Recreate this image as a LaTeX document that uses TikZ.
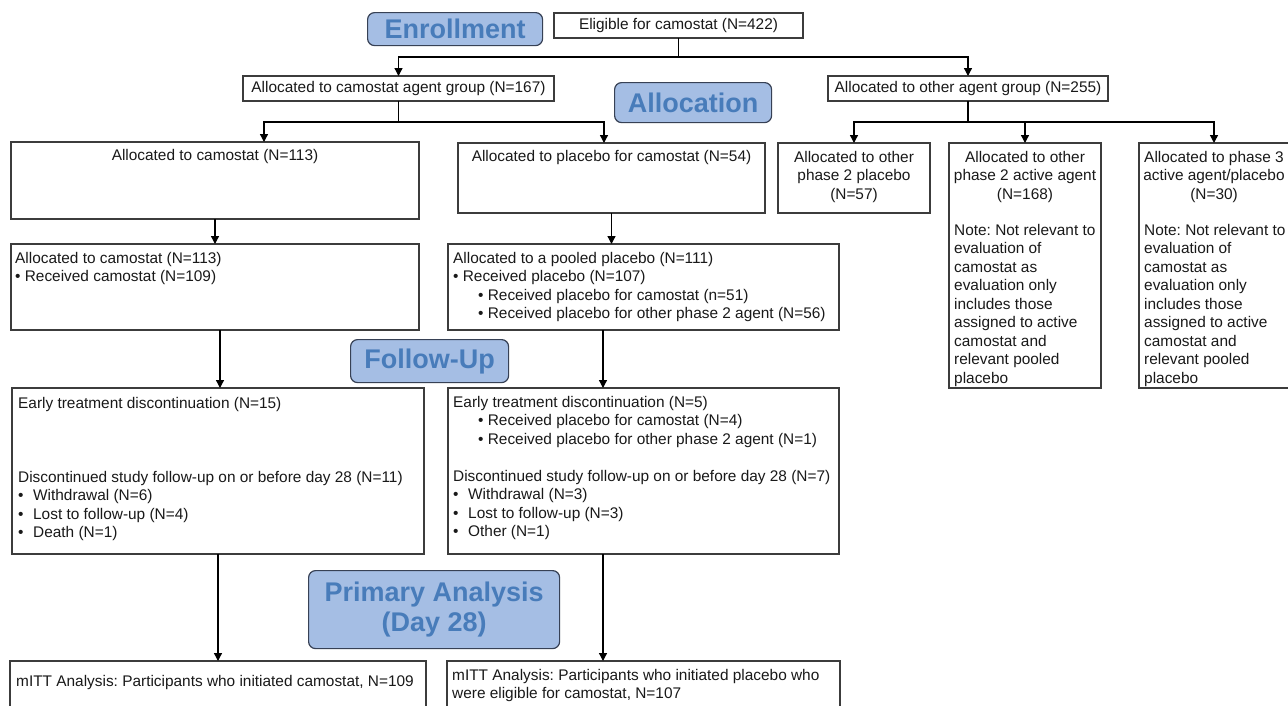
\documentclass[tikz,border=0pt]{standalone}
\usepackage{fontspec}
\setmainfont{Liberation Sans}
\usetikzlibrary{arrows.meta,calc}
\frenchspacing
\definecolor{lblfill}{RGB}{165,190,228}
\definecolor{lbltext}{RGB}{72,124,186}
\definecolor{lblline}{RGB}{55,65,85}
\definecolor{boxline}{RGB}{60,60,60}
\definecolor{txtcol}{RGB}{25,25,25}
\newcommand{\fs}{\fontsize{15.4}{18.5}\selectfont}
\newcommand{\fl}{\fontsize{27}{30}\selectfont\bfseries}
\newcommand{\st}{\rule{0pt}{14pt}}
\newcommand{\bu}{\makebox[15pt][l]{•}}
\tikzset{
  box/.style={draw=boxline, line width=1.2pt, anchor=north west, inner sep=0pt, outer sep=0pt, font=\fs, align=center, text=txtcol},
  lbl/.style={draw=lblline, fill=lblfill, text=lbltext, rounded corners=7pt, line width=1.2pt, anchor=north west, inner sep=0pt, font=\fl, align=center},
  txt/.style={inner sep=0pt, font=\fs, align=left, anchor=north west, text=txtcol},
  ctxt/.style={inner sep=0pt, font=\fs, align=center, anchor=north, text=txtcol},
  ln/.style={line width=1.3pt},
  arr/.style={line width=1.3pt, -{Triangle[width=8pt,length=8pt]}}
}
\begin{document}
\begin{tikzpicture}[x=1pt,y=-1pt]
\fill[white] (0,0) rectangle (1288,705);
\useasboundingbox (0,0) rectangle (1288,705);

% phase labels
\node[lbl, minimum width=175pt, minimum height=33pt] (enr) at (367,12) {Enrollment};
\node[lbl, minimum width=157pt, minimum height=40pt] (alloc) at (614,82) {Allocation};
\node[lbl, minimum width=158pt, minimum height=43pt] (fu) at (350,339) {Follow-Up};
\node[lbl, minimum width=251pt, minimum height=78pt] (pa) at (308,570) {Primary Analysis\\(Day 28)};

% top boxes
\node[box, minimum width=249pt, minimum height=25pt] (elig) at (554,13) {Eligible for camostat (N=422)};
\node[box, minimum width=311pt, minimum height=25pt] (camgrp) at (243,76) {Allocated to camostat agent group (N=167)};
\node[box, minimum width=280pt, minimum height=25pt] (othgrp) at (828,76) {Allocated to other agent group (N=255)};

% row 3
\node[box, minimum width=408pt, minimum height=77pt] (A1) at (11,142) {};
\node[ctxt] (A1t) at (215,146) {\st Allocated to camostat (N=113)};
\node[box, minimum width=307pt, minimum height=70pt] (B1) at (458,143) {};
\node[ctxt] (B1t) at (611.5,147) {\st Allocated to placebo for camostat (N=54)};
\node[box, minimum width=152pt, minimum height=70pt] (C1) at (778,143) {};
\node[ctxt] (C1t) at (854,148) {\st Allocated to other\\phase 2 placebo\\(N=57)};
\node[box, minimum width=152pt, minimum height=245pt] (C2) at (949,143) {};
\node[ctxt] (C2t) at (1025,148) {\st Allocated to other\\phase 2 active agent\\(N=168)};
\node[txt] (C2n) at (954,221) {\st Note: Not relevant to\\evaluation of\\camostat as\\evaluation only\\includes those\\assigned to active\\camostat and\\relevant pooled\\placebo};
\node[box, minimum width=150pt, minimum height=245pt] (C3) at (1139,143) {};
\node[ctxt] (C3t) at (1214,148) {\st Allocated to phase 3\\active agent/placebo\\(N=30)};
\node[txt] (C3n) at (1144,221) {\st Note: Not relevant to\\evaluation of\\camostat as\\evaluation only\\includes those\\assigned to active\\camostat and\\relevant pooled\\placebo};

% row 4
\node[box, minimum width=408pt, minimum height=86pt] (A2) at (11,244) {};
\node[txt] (A2t) at (15,249) {\st Allocated to camostat (N=113)\\• Received camostat (N=109)};
\node[box, minimum width=391pt, minimum height=86pt] (B2) at (448,244) {};
\node[txt] (B2t) at (453,249) {\st Allocated to a pooled placebo (N=111)\\• Received placebo (N=107)\\\hspace*{25pt}• Received placebo for camostat (n=51)\\\hspace*{25pt}• Received placebo for other phase 2 agent (N=56)};

% row 5
\node[box, minimum width=412pt, minimum height=166pt] (A3) at (12,388) {};
\node[txt] (A3t) at (18,394) {\st Early treatment discontinuation (N=15)\\[55.5pt]Discontinued study follow-up on or before day 28 (N=11)\\\bu Withdrawal (N=6)\\\bu Lost to follow-up (N=4)\\\bu Death (N=1)};
\node[box, minimum width=391pt, minimum height=166pt] (B3) at (448,388) {};
\node[txt] (B3t) at (453,393) {\st Early treatment discontinuation (N=5)\\\hspace*{25pt}• Received placebo for camostat (N=4)\\\hspace*{25pt}• Received placebo for other phase 2 agent (N=1)\\[18.5pt]Discontinued study follow-up on or before day 28 (N=7)\\\bu Withdrawal (N=3)\\\bu Lost to follow-up (N=3)\\\bu Other (N=1)};

% row 6
\node[box, minimum width=416pt, minimum height=55pt] (A4) at (10,661) {};
\node[txt] (A4t) at (16,672) {\st mITT Analysis: Participants who initiated camostat, N=109};
\node[box, minimum width=393pt, minimum height=55pt] (B4) at (447,661) {};
\node[txt] (B4t) at (452,666) {\st mITT Analysis: Participants who initiated placebo who\\were eligible for camostat, N=107};

% connectors
\draw[arr] (elig.south) -- ++(0,19) -| (camgrp.north);
\draw[arr] (elig.south) -- ++(0,19) -| (othgrp.north);
\draw[arr] (camgrp.south) -- ++(0,21) -| ([xshift=49pt]A1.north);
\draw[arr] (camgrp.south) -- ++(0,21) -| ([xshift=-7.5pt]B1.north);
\draw[arr] (othgrp.south) -- ++(0,21) -| (C1.north);
\draw[arr] (othgrp.south) -- ++(0,21) -| (C2.north);
\draw[arr] (othgrp.south) -- ++(0,21) -| (C3.north);
\draw[arr] (A1.south) -- (A1.south |- A2.north);
\draw[arr] (B1.south) -- (B1.south |- B2.north);
\draw[arr] ([xshift=5pt]A2.south) -- ([xshift=5pt]A2.south |- A3.north);
\draw[arr] ([xshift=-40.5pt]B2.south) -- ([xshift=-40.5pt]B2.south |- B3.north);
\draw[arr] (A3.south) -- (A3.south |- A4.north);
\draw[arr] ([xshift=-40.5pt]B3.south) -- ([xshift=-40.5pt]B3.south |- B4.north);
\end{tikzpicture}
\end{document}
